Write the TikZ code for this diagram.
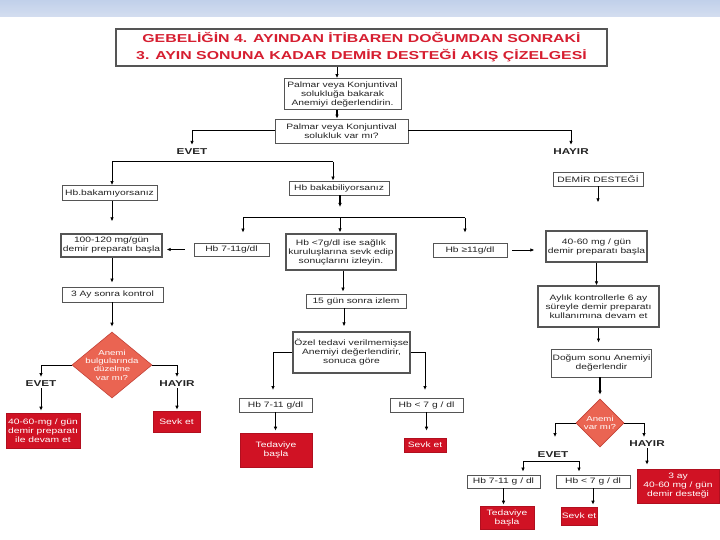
\documentclass[tikz,border=0pt]{standalone}
\usepackage{fontspec}
\setmainfont{Liberation Sans}[FakeStretch=1.32]
\newfontfamily\titlefont{Liberation Sans}[FakeStretch=1.38]
\usetikzlibrary{arrows.meta,shapes.geometric,calc}
\definecolor{titlered}{RGB}{214,30,48}
\definecolor{boxred}{RGB}{208,18,36}
\definecolor{dmdfill}{RGB}{234,100,82}
\definecolor{dmddraw}{RGB}{196,66,56}
\definecolor{bordergray}{RGB}{85,85,85}
\definecolor{txtgray}{RGB}{35,35,35}
\definecolor{bandtop}{RGB}{193,208,234}
\definecolor{bandbot}{RGB}{212,222,240}
\newcommand\bodyfs{\fontsize{7.8}{9}\selectfont}
\newcommand\titlefs{\titlefont\bfseries\fontsize{11.5}{17}\selectfont}
\newcommand\labfs{\titlefont\bfseries\fontsize{8.5}{10}\selectfont}
\tikzset{
  bx/.style={draw=bordergray, line width=0.9pt, fill=white, inner sep=1pt, align=center, font=\bodyfs, text=txtgray},
  bxt/.style={bx, line width=1.4pt},
  rbx/.style={fill=boxred, draw=boxred!85!black, line width=0.6pt, text=white, inner sep=1pt, align=center, font=\bodyfs},
  dmd/.style={diamond, draw=dmddraw, fill=dmdfill, line width=0.6pt, inner sep=0pt},
  dtext/.style={text=white, align=center, font=\fontsize{7.3}{8.4}\selectfont, inner sep=0pt},
  lab/.style={font=\labfs, text=txtgray, inner sep=1pt},
  arr/.style={-{Latex[length=4pt,width=3.6pt]}, line width=1pt, draw=black},
  tarr/.style={arr, line width=1.8pt},
  ln/.style={line width=1pt, draw=black}
}
\begin{document}
\begin{tikzpicture}[x=1pt,y=-1pt]
\useasboundingbox (0,0) rectangle (720,540);
\fill[white] (0,0) rectangle (720,540);
\shade[top color=bandtop, bottom color=bandbot] (0,0) rectangle (720,17);

% title
\node[draw=bordergray, line width=1.2pt, fill=white, minimum width=491, minimum height=37, inner sep=0pt, align=center, text=titlered, font=\titlefs] (title) at (361.5,47.5)
  {GEBELİĞİN 4. AYINDAN İTİBAREN DOĞUMDAN SONRAKİ\\3. AYIN SONUNA KADAR DEMİR DESTEĞİ AKIŞ ÇİZELGESİ};

% top nodes
\node[bx, minimum width=117, minimum height=31] (n1) at (342.5,94) {Palmar veya Konjuntival\\solukluğa bakarak\\Anemiyi değerlendirin.};
\node[bx, minimum width=133, minimum height=24] (n2) at (341.5,131) {Palmar veya Konjuntival\\solukluk var mı?};
\node[lab] (ev1) at (192,152) {EVET};
\node[lab] (hy1) at (571,152) {HAYIR};

\node[bx, minimum width=95, minimum height=15] (nb1) at (109.5,193) {Hb.bakamıyorsanız};
\node[bx, minimum width=100, minimum height=14] (nb2) at (339,188) {Hb bakabiliyorsanız};
\node[bx, minimum width=90, minimum height=14] (nd) at (598,179) {DEMİR DESTEĞİ};

\node[bxt, minimum width=101, minimum height=23] (n100) at (111.5,245.5) {100-120 mg/gün\\demir preparatı başla};
\node[bx, minimum width=75, minimum height=13] (hb7) at (231.5,249.5) {Hb 7-11g/dl};
\node[bxt, minimum width=110, minimum height=36] (mid) at (341,252) {Hb <7g/dl ise sağlık\\kuruluşlarına sevk edip\\sonuçlarını izleyin.};
\node[bx, minimum width=74, minimum height=14] (hb11) at (470,250) {Hb ≥11g/dl};
\node[bxt, minimum width=101, minimum height=31] (n40) at (596.5,246.5) {40-60 mg / gün\\demir preparatı başla};

% left column
\node[bx, minimum width=101, minimum height=15] (k3) at (112.5,294.5) {3 Ay sonra kontrol};
\node[dmd, minimum width=80, minimum height=66] (d1) at (112,365) {};
\node[dtext] (d1t) at (d1.center) {Anemi\\bulgularında\\düzelme\\var mı?};
\node[lab] (ev2) at (41,384) {EVET};
\node[lab] (hy2) at (177,384) {HAYIR};
\node[rbx, minimum width=74, minimum height=35] (red1) at (43,430.5) {40-60-mg / gün\\demir preparatı\\ile devam et};
\node[rbx, minimum width=47, minimum height=21] (red2) at (176.5,421.5) {Sevk et};

% middle column
\node[bx, minimum width=100, minimum height=14] (n15) at (356,301) {15 gün sonra izlem};
\node[bxt, minimum width=117, minimum height=41] (ozel) at (351.5,352.5) {Özel tedavi verilmemişse\\Anemiyi değerlendirir,\\sonuca göre};
\node[bx, minimum width=73, minimum height=14] (hbA) at (275.5,405) {Hb 7-11 g/dl};
\node[bx, minimum width=73, minimum height=14] (hbB) at (426.5,405) {Hb < 7 g / dl};
\node[rbx, minimum width=72, minimum height=34] (redA) at (276,450) {Tedaviye\\başla};
\node[rbx, minimum width=42, minimum height=14] (redB) at (425,445) {Sevk et};

% right column
\node[bxt, minimum width=121, minimum height=41] (ay) at (598.5,306.5) {Aylık kontrollerle 6 ay\\süreyle demir preparatı\\kullanımına devam et};
\node[bx, minimum width=97, minimum height=28] (dog) at (601.5,363) {Doğum sonu Anemiyi\\değerlendir};
\node[dmd, minimum width=48, minimum height=48] (d2) at (600,423) {};
\node[dtext] (d2t) at (d2.center) {Anemi\\var mı?};
\node[lab] (ev3) at (553,455) {EVET};
\node[lab] (hy3) at (647,444) {HAYIR};
\node[bx, minimum width=73, minimum height=13] (hbC) at (503.5,481.5) {Hb 7-11 g / dl};
\node[bx, minimum width=74, minimum height=13] (hbD) at (593,481.5) {Hb < 7 g / dl};
\node[rbx, minimum width=54, minimum height=23] (redC) at (507,517.5) {Tedaviye\\başla};
\node[rbx, minimum width=36, minimum height=18] (redD) at (579,516) {Sevk et};
\node[rbx, minimum width=82, minimum height=34] (redE) at (678,486) {3 ay\\40-60 mg / gün\\demir desteği};

% helper coordinates
\coordinate (c1) at (337,0);
\coordinate (b1L) at (112,162);
\coordinate (b1R) at (333,162);
\coordinate (c340) at (340,0);
\coordinate (b2L) at (243,218);
\coordinate (b2M) at (340,218);
\coordinate (b2R) at (465,218);
\coordinate (c343) at (343,0);
\coordinate (c344) at (344,0);
\coordinate (t1L) at (41,377);
\coordinate (t1R) at (177,377);
\coordinate (t2L) at (273,390);
\coordinate (t2R) at (425,390);
\coordinate (t3L) at (555,437);
\coordinate (t3R) at (644,437);
\coordinate (b3L) at (523,461);
\coordinate (b3R) at (579,461);

% connectors top
\draw[arr] (title.south -| c1) -- (n1.north -| c1);
\draw[tarr] (n1.south -| c1) -- (n2.north -| c1);
\draw[arr, shorten >=3pt] (n2.west) -| (ev1.north);
\draw[arr, shorten >=3pt] (n2.east) -| (hy1.north);
\draw[ln] (b1L) -- (b1R);
\draw[arr] (b1L) -- (b1L |- nb1.north);
\draw[arr] (b1R) -- (b1R |- nb2.north);
\draw[arr, shorten >=12pt] (nb1.south -| b1L) -- (n100.north -| b1L);
\draw[tarr, shorten >=11pt] (nb2.south -| c340) -- (b2M);
\draw[ln] (b2L) -- (b2R);
\draw[arr, shorten >=10pt] (b2L) -- (b2L |- hb7.north);
\draw[arr, shorten >=1pt] (b2M) -- (b2M |- mid.north);
\draw[arr, shorten >=10pt] (b2R) -- (b2R |- hb11.north);
\draw[arr, shorten <=9pt, shorten >=4pt] (hb7.west) -- (hb7.west -| n100.east);
\draw[arr, shorten <=5pt, shorten >=11pt] (hb11.east) -- (hb11.east -| n40.west);
\draw[arr, shorten >=28pt] (nd.south) -- (nd.south |- n40.north);

% left
\draw[arr, shorten >=4pt] (n100.south -| b1L) -- (k3.north -| b1L);
\draw[arr, shorten >=5pt] (k3.south -| d1) -- (d1.north);
\draw[arr] (d1.west) -| (t1L);
\draw[arr] (d1.east) -| (t1R);
\draw[arr, shorten >=2pt] (ev2.south) -- (ev2.south |- red1.north);
\draw[arr, shorten >=1pt] (hy2.south) -- (hy2.south |- red2.north);

% middle
\draw[arr, shorten >=2pt] (mid.south -| c343) -- (n15.north -| c343);
\draw[arr, shorten >=5pt] (n15.south -| c344) -- (ozel.north -| c344);
\draw[arr] (ozel.west) -| (t2L);
\draw[arr] (ozel.east) -| (t2R);
\draw[arr, shorten >=2pt] (hbA.south) -- (hbA.south |- redA.north);
\draw[tarr, shorten >=7pt] (hbB.south) -- (hbB.south |- redB.north);

% right
\draw[arr] (n40.south) -- (n40.south |- ay.north);
\draw[arr, shorten >=6pt] (ay.south) -- (ay.south |- dog.north);
\draw[tarr, shorten >=4pt] (dog.south -| d2) -- (d2.north);
\draw[arr] (d2.west) -| (t3L);
\draw[arr] (d2.east) -| (t3R);
\draw[ln] (b3L) -- (b3R);
\draw[arr, shorten >=3pt] (b3L) -- (b3L |- hbC.north);
\draw[arr, shorten >=3pt] (b3R) -- (b3R |- hbD.north);
\draw[arr, shorten >=1pt] (hbC.south) -- (hbC.south |- redC.north);
\draw[arr, shorten >=2pt] (hbD.south) -- (hbD.south |- redD.north);
\draw[arr, shorten >=4pt] (hy3.south) -- (hy3.south |- redE.north);
\end{tikzpicture}
\end{document}
